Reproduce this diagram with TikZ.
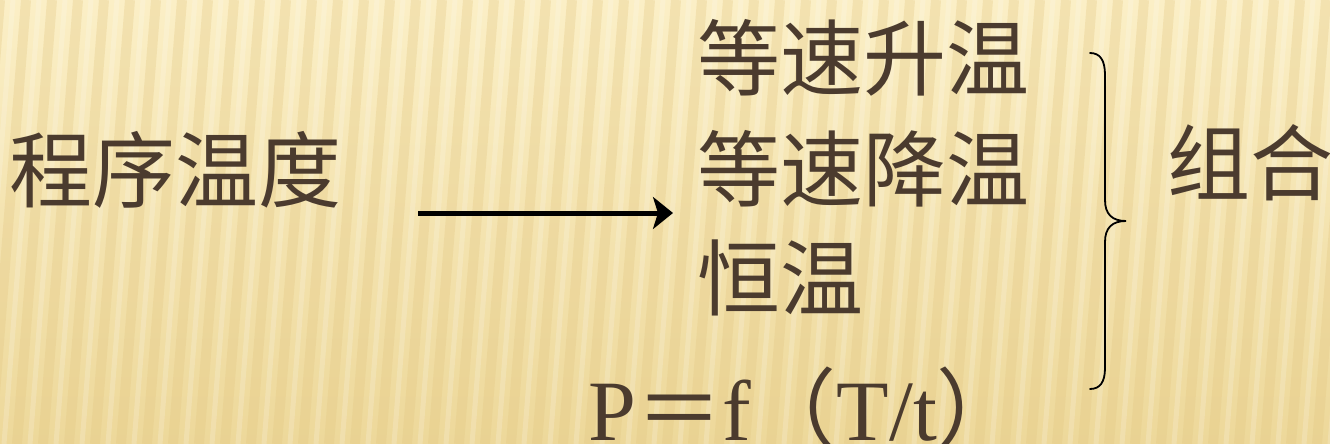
\documentclass[tikz,border=0pt]{standalone}
\usepackage{fontspec}
\setmainfont{Liberation Serif}
\newfontfamily\cjk{Noto Sans CJK SC}
\usetikzlibrary{arrows.meta}
\definecolor{txt}{HTML}{4B3B2E}
\definecolor{bgtop}{HTML}{FBEFC6}
\definecolor{bgbot}{HTML}{EDD89A}
\definecolor{stripe}{HTML}{E3C783}
\begin{document}
\begin{tikzpicture}[x=1pt,y=-1pt,
  lbl/.style={text=txt, font=\cjk\fontsize{83}{83}\selectfont, inner sep=0pt, anchor=west},
  formula/.style={text=txt, font=\fontsize{86}{86}\selectfont, inner sep=0pt, anchor=base west},
  arrowline/.style={line width=5pt, -{Stealth[length=20pt,width=32pt,inset=5pt]}},
  bracestyle/.style={line width=1.8pt, line cap=round}]
\useasboundingbox (0,0) rectangle (1330,444);
\begin{scope}
\clip (0,0) rectangle (1330,444);
\shade[top color=bgtop, bottom color=bgbot] (0,0) rectangle (1330,444);
\foreach \i in {-2,...,55}
  \draw[stripe, line width=10pt, opacity=0.32] ({\i*26},0) -- ({\i*26-35},444);
\foreach \i in {-2,...,55}
  \draw[white, line width=5pt, opacity=0.18] ({\i*26+13},0) -- ({\i*26-22},444);
\end{scope}
\node[lbl] (src) at (9,170) {程序温度};
\node[lbl] (r1) at (697,58) {等速升温};
\node[lbl] (r2) at (697,169) {等速降温};
\node[lbl] (r3) at (697,278) {恒温};
\node[lbl] (comb) at (1167,163) {组合};
\node[formula] (eq) at (588,440) {P{\cjk ＝}f{\cjk （}T/t{\cjk ）}};
\coordinate (a1) at (418,213);
\coordinate (a2) at (673,213);
\draw[arrowline] (a1) -- (a2);
\draw[bracestyle] (1090,53) .. controls (1100,53) and (1105,60) .. (1105,75) -- (1105,200)
  .. controls (1105,214) and (1112,221) .. (1126,221)
  .. controls (1112,221) and (1105,228) .. (1105,242) -- (1105,368)
  .. controls (1105,382) and (1100,389) .. (1090,389);
\end{tikzpicture}
\end{document}
